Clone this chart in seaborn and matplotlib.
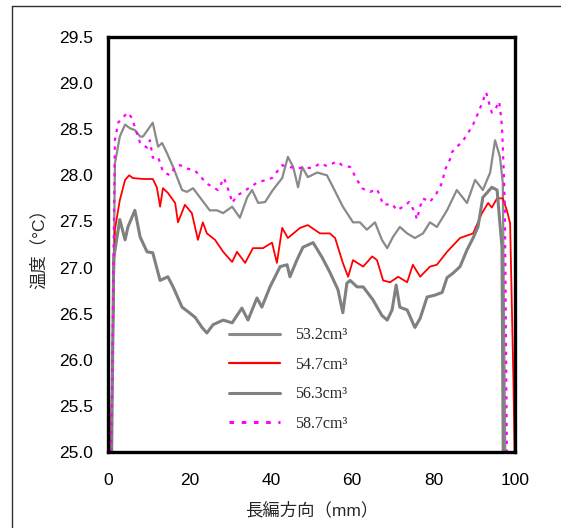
import pandas as pd
import matplotlib.pyplot as plt
from matplotlib.lines import Line2D
import seaborn as sns

# 53.2cm3 (upper grey)
x_532 = [0.8, 1.3, 1.7, 2.9, 4.2, 5.4, 6.6, 7.9, 8.6, 11.0, 12.3, 13.3, 14.5, 16.0, 18.2, 19.4,
         20.9, 22.6, 25.0, 26.8, 28.3, 30.5, 32.4, 34.2, 35.4, 36.9, 38.6, 40.5, 42.8, 44.2,
         45.5, 46.7, 47.7, 49.1, 51.4, 53.8, 55.3, 57.7, 60.2, 61.9, 63.6, 65.6, 67.3, 68.6,
         70.0, 71.7, 73.5, 75.4, 77.4, 79.1, 80.8, 83.3, 85.7, 88.2, 90.2, 92.1, 93.9, 95.1,
         96.3, 97.0, 97.6]
y_532 = [25.0, 26.5, 28.13, 28.42, 28.55, 28.51, 28.49, 28.42, 28.42, 28.57, 28.31, 28.35, 28.24,
         28.09, 27.84, 27.82, 27.86, 27.76, 27.62, 27.62, 27.59, 27.66, 27.54, 27.76, 27.84,
         27.70, 27.71, 27.84, 27.97, 28.20, 28.09, 27.87, 28.09, 27.98, 28.03, 28.00, 27.87,
         27.66, 27.49, 27.49, 27.41, 27.49, 27.30, 27.21, 27.33, 27.44, 27.37, 27.32, 27.37,
         27.49, 27.44, 27.62, 27.84, 27.70, 27.95, 27.84, 28.03, 28.38, 28.20, 27.92, 25.0]

# 54.7cm3 (red)
x_547 = [0.7, 1.7, 2.9, 4.2, 5.2, 6.1, 8.6, 11.0, 12.0, 12.8, 13.5, 14.7, 16.5, 17.2, 18.9, 20.6,
         22.1, 23.3, 24.3, 26.3, 28.3, 30.5, 31.7, 33.7, 35.6, 38.1, 40.3, 41.5, 42.8, 44.2,
         47.2, 49.1, 52.1, 54.5, 55.8, 57.7, 59.0, 60.2, 62.7, 64.9, 66.1, 67.6, 69.3, 71.3,
         73.5, 74.9, 76.7, 79.1, 80.8, 83.3, 86.5, 89.7, 91.9, 93.4, 94.3, 95.6, 97.0, 98.0,
         98.8, 99.6, 99.9]
y_547 = [25.0, 27.41, 27.73, 27.95, 28.00, 27.97, 27.96, 27.96, 27.87, 27.66, 27.86, 27.81, 27.70,
         27.49, 27.68, 27.59, 27.30, 27.49, 27.37, 27.30, 27.17, 27.06, 27.17, 27.05, 27.21,
         27.21, 27.27, 27.05, 27.43, 27.32, 27.43, 27.46, 27.37, 27.37, 27.32, 27.05, 26.90,
         27.08, 27.01, 27.12, 27.08, 26.86, 26.84, 26.90, 26.84, 27.03, 26.90, 27.01, 27.03,
         27.17, 27.32, 27.37, 27.59, 27.70, 27.65, 27.75, 27.75, 27.62, 27.48, 25.8, 25.0]

# 56.3cm3 (lower grey)
x_563 = [0.9, 1.4, 2.9, 4.2, 4.9, 6.6, 7.9, 9.6, 11.0, 12.8, 14.7, 16.0, 18.2, 19.7, 21.4, 23.1,
         24.3, 25.8, 28.3, 30.5, 32.9, 34.4, 36.6, 37.8, 39.8, 42.3, 44.0, 44.7, 46.4, 47.9,
         50.4, 52.6, 54.5, 56.5, 57.7, 58.7, 59.5, 61.2, 62.7, 65.1, 67.3, 68.6, 69.8, 70.8,
         71.7, 73.5, 75.4, 76.7, 78.4, 80.3, 82.1, 83.3, 84.8, 86.5, 88.2, 89.7, 90.9, 92.1,
         94.3, 95.6, 96.8, 97.1]
y_563 = [25.0, 27.1, 27.52, 27.30, 27.44, 27.62, 27.33, 27.17, 27.16, 26.86, 26.90, 26.79, 26.57,
         26.52, 26.46, 26.35, 26.29, 26.38, 26.43, 26.40, 26.56, 26.43, 26.67, 26.57, 26.79,
         27.01, 27.03, 26.90, 27.08, 27.22, 27.27, 27.11, 26.95, 26.76, 26.51, 26.83, 26.86,
         26.79, 26.79, 26.65, 26.48, 26.43, 26.54, 26.81, 26.57, 26.54, 26.35, 26.45, 26.68,
         26.70, 26.73, 26.89, 26.94, 27.01, 27.19, 27.32, 27.44, 27.76, 27.87, 27.84, 27.22, 25.0]

# 58.7cm3 (magenta, dotted)
x_587 = [0.8, 1.7, 2.5, 3.7, 4.9, 5.9, 6.6, 7.9, 9.6, 10.3, 11.0, 12.3, 13.5, 15.2, 16.5, 17.7,
         19.7, 21.4, 24.3, 25.8, 27.0, 28.5, 30.0, 30.5, 31.7, 33.2, 34.9, 36.6, 38.1, 40.3,
         42.8, 44.2, 46.4, 48.4, 50.4, 52.1, 53.8, 56.3, 57.5, 59.5, 61.2, 62.4, 64.4, 66.1,
         66.8, 67.6, 69.8, 71.0, 72.5, 74.0, 75.4, 75.9, 76.7, 77.4, 79.1, 80.8, 82.1, 82.8,
         84.0, 84.5, 85.7, 87.0, 88.5, 89.7, 90.7, 91.9, 92.9, 93.4, 94.3, 95.1, 96.1, 96.6,
         96.8, 97.0, 97.3, 97.5, 98.0]
y_587 = [25.0, 28.38, 28.57, 28.63, 28.68, 28.62, 28.52, 28.35, 28.30, 28.38, 28.19, 28.20, 28.04,
         28.00, 28.09, 28.11, 28.07, 28.05, 27.91, 27.87, 27.84, 27.97, 27.79, 27.70, 27.78,
         27.82, 27.87, 27.92, 27.94, 27.97, 28.11, 28.09, 28.08, 28.08, 28.08, 28.13, 28.10,
         28.15, 28.11, 28.09, 27.95, 27.86, 27.82, 27.85, 27.78, 27.68, 27.69, 27.62, 27.66,
         27.71, 27.60, 27.52, 27.66, 27.75, 27.71, 27.81, 27.92, 28.06, 28.17, 28.25, 28.31,
         28.36, 28.46, 28.55, 28.65, 28.78, 28.90, 28.82, 28.68, 28.71, 28.80, 28.63, 28.52,
         28.31, 27.95, 27.70, 25.0]

x_ticks = [0, 20, 40, 60, 80, 100]
y_ticks = [25.0, 25.5, 26.0, 26.5, 27.0, 27.5, 28.0, 28.5, 29.0, 29.5]

sns.set_style('white')
plt.rcParams['font.family'] = ['Liberation Sans', 'Noto Sans CJK JP']

fig = plt.figure(figsize=(5.61, 5.28), dpi=100)
ax = fig.add_axes([0.1925, 0.144, 0.7255, 0.786])

series = [
    ('53.2cm³', x_532, y_532, '#8a8a8a', 1.6, '-'),
    ('54.7cm³', x_547, y_547, '#ff0000', 1.3, '-'),
    ('56.3cm³', x_563, y_563, '#808080', 2.2, '-'),
    ('58.7cm³', x_587, y_587, '#ff00ff', 1.6, ':'),
]
for name, xs, ys, col, lw, ls in series:
    df = pd.DataFrame({'x': xs, 'y': ys})
    sns.lineplot(data=df, x='x', y='y', ax=ax, sort=False, estimator=None,
                 color=col, linewidth=lw, linestyle=ls, label=name)

for line in ax.get_lines():
    if line.get_linestyle() == ':':
        line.set_dashes((1.5, 2.5))

ax.set_xlim(0, 100)
ax.set_ylim(25.0, 29.5)
ax.set_xticks(x_ticks)
ax.set_yticks(y_ticks)
ax.set_yticklabels([f'{v:.1f}' for v in y_ticks])
ax.tick_params(axis='both', direction='in', length=5, width=1, color='#808080',
               labelsize=12.5, labelcolor='black')
ax.tick_params(axis='x', pad=15)
ax.tick_params(axis='y', pad=11)
for sp in ax.spines.values():
    sp.set_visible(True)
    sp.set_color('black')
    sp.set_linewidth(2.4)

ax.set_xlabel('長編方向（mm）', fontsize=12.5, labelpad=10)
ax.set_ylabel('温度（°C）', fontsize=12.5, labelpad=9)

leg = ax.legend(loc='upper left', bbox_to_anchor=(0.262, 0.335), frameon=False,
                handlelength=3.2, handletextpad=0.95, labelspacing=0.85,
                prop={'family': 'Liberation Serif', 'size': 11.5})
for h in leg.get_lines():
    h.set_linewidth(2.2)
leg.get_lines()[1].set_linewidth(1.6)
leg.get_lines()[3].set_dashes((1.5, 2.5))

# outer frame lines (left and top)
fig.add_artist(Line2D([0.022, 0.022], [0.0, 0.989], color='#303030', linewidth=1,
                      transform=fig.transFigure))
fig.add_artist(Line2D([0.022, 1.0], [0.989, 0.989], color='#303030', linewidth=1,
                      transform=fig.transFigure))

fig.savefig('out.png', dpi=100)
